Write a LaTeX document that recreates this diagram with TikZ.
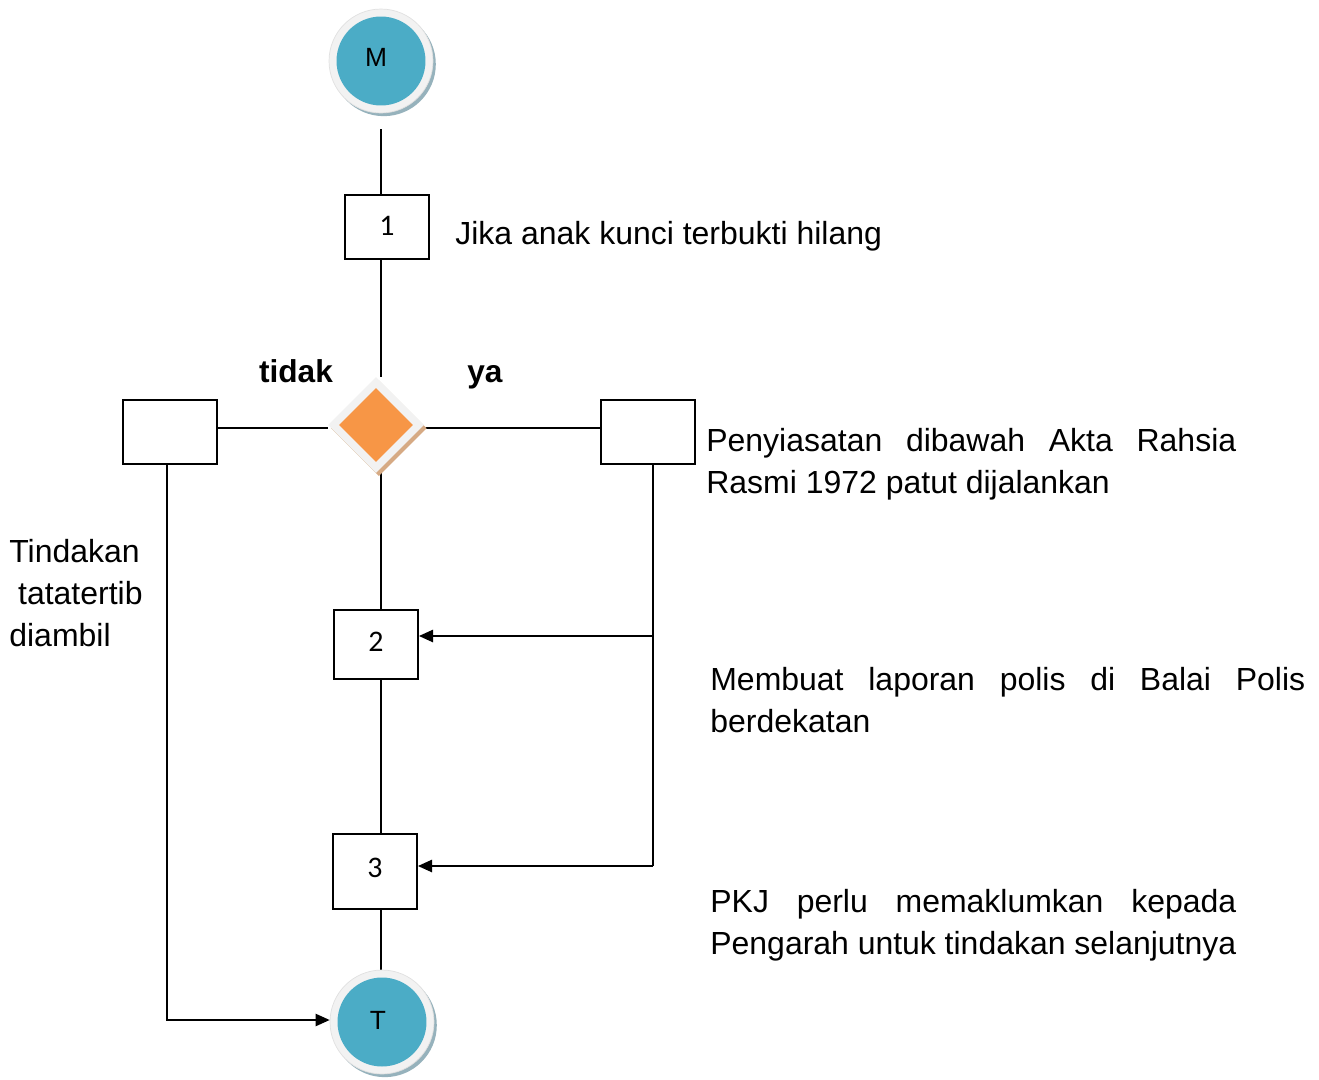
\documentclass[tikz,border=0pt]{standalone}
\usepackage{fontspec}
\setmainfont{Liberation Sans}
\newfontfamily\boxfont{Carlito}
\usetikzlibrary{positioning,arrows.meta,shapes.geometric,shadows,backgrounds}
\definecolor{termblue}{RGB}{75,172,198}
\definecolor{termring}{RGB}{242,242,242}
\definecolor{termshade}{RGB}{150,178,188}
\definecolor{decorange}{RGB}{247,150,70}
\definecolor{decshade}{RGB}{214,170,132}

\tikzset{
  ringnode/.style={circle,fill=termring,draw=black!12,line width=0.4pt,
    minimum size=2.08cm,inner sep=0pt,
    drop shadow={shadow xshift=1.6pt,shadow yshift=-1.8pt,fill=termshade,opacity=1}},
  corenode/.style={circle,fill=termblue,minimum size=1.78cm,inner sep=0pt},
  termtext/.style={inner sep=0pt,font=\fontsize{15}{17}\selectfont},
  decring/.style={diamond,aspect=1,fill=termring,minimum size=1.92cm,inner sep=0pt,
    drop shadow={shadow xshift=1.6pt,shadow yshift=-1.8pt,fill=decshade,opacity=1}},
  deccore/.style={diamond,aspect=1,fill=decorange,minimum size=1.48cm,inner sep=0pt},
  stepbox/.style={rectangle,draw=black,line width=1.1pt,inner sep=0pt,
    font=\boxfont\fontsize{17}{19}\selectfont},
  flowline/.style={line width=0.9pt},
  flowarrow/.style={flowline,-{Triangle[length=8pt,width=7pt]}},
  note/.style={inner sep=0pt,font=\fontsize{18.2}{23.8}\selectfont},
  answer/.style={inner sep=0pt,font=\fontsize{18}{23.8}\selectfont\bfseries}
}

\begin{document}
\begin{tikzpicture}[x=0.02cm,y=-0.02cm]
\useasboundingbox (0,0) rectangle (1319,1079);

% terminals
\node[ringnode] (m) at (381,61) {};
\node[corenode] at (m) {};
\node[termtext] (mtext) at (376,57) {M};
\node[ringnode] (t) at (382,1022) {};
\node[corenode] at (t) {};
\node[termtext] (ttext) at (378,1020) {T};

% steps
\node[stepbox,minimum width=1.68cm,minimum height=1.28cm] (b1) at (387,227) {\raisebox{1pt}{1}};
\node[decring] (d) at (376,425) {};
\node[deccore] at (d) {};
\node[stepbox,minimum width=1.88cm,minimum height=1.28cm] (lb) at (170,432) {};
\node[stepbox,minimum width=1.88cm,minimum height=1.28cm] (rb) at (648,432) {};
\node[stepbox,minimum width=1.68cm,minimum height=1.38cm] (b2) at (376,644.5) {\raisebox{2.8pt}{2}};
\node[stepbox,minimum width=1.68cm,minimum height=1.5cm] (b3) at (375,871.5) {\raisebox{4.4pt}{3}};

% labels
\node[answer,anchor=base] at (296,382) {tidak};
\node[answer,anchor=base] at (485,382) {ya};
\node[note,anchor=base west] at (455,244) {Jika anak kunci terbukti hilang};
\node[note,anchor=north west,text width=10.6cm,align=justify] at (706,428)
  {Penyiasatan dibawah Akta Rahsia Rasmi 1972 patut dijalankan};
\node[note,anchor=north west,text width=11.9cm,align=justify] at (710,667)
  {Membuat laporan polis di Balai Polis berdekatan};
\node[note,anchor=north west,text width=10.52cm,align=justify] at (710,889)
  {PKJ perlu memaklumkan kepada Pengarah untuk tindakan selanjutnya};
\node[note,anchor=north west,align=left] at (9,539)
  {Tindakan\\\hspace*{5pt}tatatertib\\diambil};

% connectors
\coordinate (rj1) at (653,636);
\coordinate (rj2) at (653,866);
\coordinate (lj) at (167,1020);
\begin{scope}[on background layer]
\draw[flowline,shorten <=9pt] (m.south) -- (m |- b1.north);
\draw[flowline] (m |- b1.south) -- (m |- d.north);
\draw[flowline] (m |- d.south) -- (m |- b2.north);
\draw[flowline] (m |- b2.south) -- (m |- b3.north);
\draw[flowline] (m |- b3.south) -- (m |- t.north);
\draw[flowline] ([yshift=-1.7pt] d.west) -- ([yshift=-1.7pt] d.west -| lb.east);
\draw[flowline] ([yshift=-1.7pt] d.east) -- ([yshift=-1.7pt] d.east -| rb.west);
\end{scope}
\draw[flowline] (rb.south -| rj1) -- (rj2);
\draw[flowarrow] (rj1) -- (rj1 -| b2.east);
\draw[flowarrow] (rj2) -- (rj2 -| b3.east);
\draw[flowarrow] (lb.south -| lj) -- (lj) -- (lj -| t.west);
\end{tikzpicture}
\end{document}
